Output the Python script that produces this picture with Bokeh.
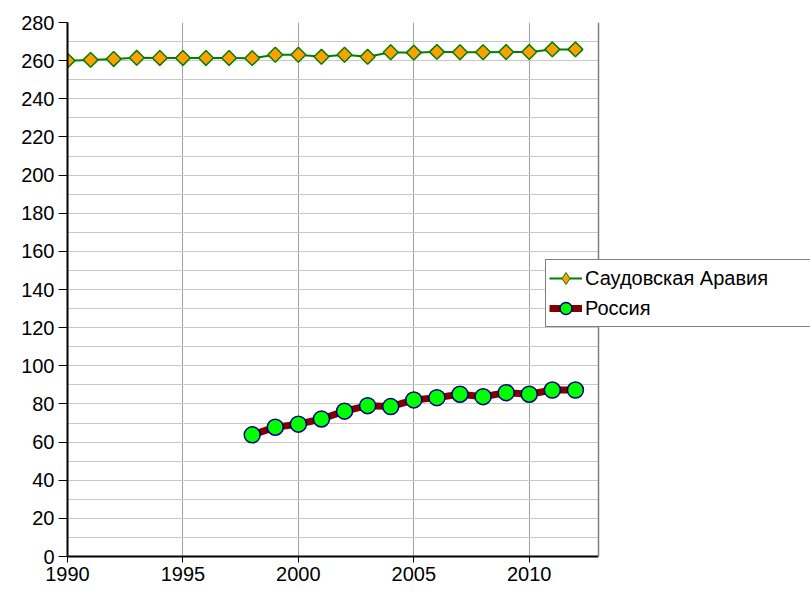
import numpy as np
from bokeh.plotting import figure
from bokeh.models import (Range1d, FixedTicker, Legend, LegendItem, ColumnDataSource,
                          BoxAnnotation, Span)
from bokeh.embed import file_html
from bokeh.resources import INLINE

# ---- data ----
years_sa = list(range(1990, 2013))
saudi = [260.0, 260.4, 260.9, 261.5, 261.4, 261.4, 261.4, 261.4, 261.3, 263.1,
         263.1, 262.0, 263.1, 262.0, 264.4, 264.2, 264.6, 264.4, 264.4, 264.5,
         264.5, 265.9, 265.9]
years_ru = list(range(1998, 2013))
russia = [63.8, 67.8, 69.4, 72.1, 76.2, 79.1, 78.6, 82.1, 83.3, 85.1, 83.8,
          85.9, 85.1, 87.3, 87.3]
x_ticks = [1990, 1995, 2000, 2005, 2010]
y_ticks = list(range(0, 281, 20))
y_minor = list(range(0, 281, 10))
labels = ["Саудовская Аравия", "Россия"]
x_start, x_end = 1990, 2013

FONT = "Liberation Sans"
FS = "20px"

# plot area: x from 67 to 598 px for 1990..2013; canvas extends to 810
px_per_year = (598 - 67) / (x_end - x_start)
x_canvas_end = x_start + (810 - 67) / px_per_year

p = figure(width=810, height=597, output_backend="svg", toolbar_location=None,
           x_range=Range1d(x_start, x_canvas_end), y_range=Range1d(0, 280),
           min_border_left=67, min_border_right=0, min_border_top=22,
           min_border_bottom=41)
p.background_fill_color = "white"
p.border_fill_color = "white"
p.outline_line_color = None

# grids
p.xgrid.ticker = FixedTicker(ticks=x_ticks)
p.xgrid.grid_line_color = "#a0a0a0"
p.xgrid.grid_line_width = 1
p.ygrid.ticker = FixedTicker(ticks=y_ticks, minor_ticks=y_minor)
p.ygrid.grid_line_color = "#c8c8c8"
p.ygrid.minor_grid_line_color = "#c8c8c8"
p.ygrid.grid_line_width = 1

# axes
p.xaxis.ticker = FixedTicker(ticks=x_ticks)
p.yaxis.ticker = FixedTicker(ticks=y_ticks)
p.xaxis.bounds = (x_start, x_end)
for ax in (p.xaxis[0], p.yaxis[0]):
    ax.axis_line_color = "black"
    ax.axis_line_width = 2
    ax.major_tick_line_color = "black"
    ax.major_tick_line_width = 1
    ax.major_tick_in = 0
    ax.minor_tick_line_color = None
    ax.major_label_text_font = FONT
    ax.major_label_text_font_size = FS
    ax.major_label_text_color = "black"
p.xaxis.major_tick_out = 6
p.xaxis.major_label_standoff = 4
p.yaxis.major_tick_out = 9
p.yaxis.major_label_standoff = 4

# blank out the area right of the plot box, draw its right border
p.add_layout(BoxAnnotation(left=x_end, fill_color="white", fill_alpha=1,
                           line_color=None))
p.add_layout(Span(location=x_end, dimension="height", line_color="#808080",
                  line_width=1.5))

src_sa = ColumnDataSource(dict(x=years_sa, y=saudi))
src_ru = ColumnDataSource(dict(x=years_ru, y=russia))

l_sa = p.line("x", "y", source=src_sa, line_color="#008000", line_width=2)
m_sa = p.scatter("x", "y", source=src_sa, marker="square", size=10.5,
                 angle=np.pi / 4, fill_color="#FF9F00", line_color="#008000",
                 line_width=1.5)
l_ru = p.line("x", "y", source=src_ru, line_color="#800000", line_width=7)
m_ru = p.scatter("x", "y", source=src_ru, marker="circle", size=16,
                 fill_color="#00FF00", line_color="#000080", line_width=1.5)

# legend-only diamond marker (a point far outside the visible range)
leg_sa = p.scatter(x=[1900], y=[-1000], marker="diamond", size=13,
                   fill_color="#FF9F00", line_color="#008000", line_width=1)

legend = Legend(items=[LegendItem(label=labels[0], renderers=[l_sa, leg_sa]),
                       LegendItem(label=labels[1], renderers=[l_ru, m_ru])],
                location=(478, 229))
legend.glyph_width = 33
legend.glyph_height = 30
legend.label_height = 30
legend.label_width = 235
legend.label_standoff = 3
legend.spacing = 0
legend.padding = 3
legend.margin = 0
legend.label_text_font = FONT
legend.label_text_font_size = FS
legend.label_text_color = "black"
legend.border_line_color = "black"
legend.border_line_width = 1
legend.background_fill_color = "white"
legend.background_fill_alpha = 1
p.add_layout(legend, "center")

open("out.html", "w").write(file_html(p, INLINE))
